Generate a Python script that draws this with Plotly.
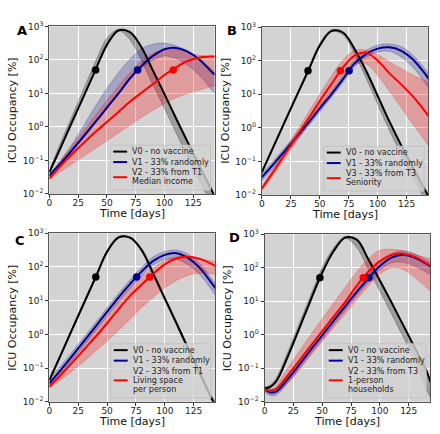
import plotly.graph_objects as go

# ---------------- data ----------------
DAYS = [0, 5, 10, 20, 30, 40, 50, 60, 70, 80, 90, 100, 110, 120, 130, 140, 144]

# Panel A
A_V0 = [0.044, 0.105, 0.25, 1.48, 8.5, 50, 282, 759, 676, 240, 47.9, 9.55, 1.82, 0.363, 0.0724, 0.0151, 0.0079]
A_V0_HI = [0.05, 0.135, 0.355, 2.24, 14.1, 89, 447, 832, 676, 240, 47.9, 9.55, 1.82, 0.363, 0.0724, 0.0151, 0.0079]
A_V0_LO = [0.0417, 0.1, 0.24, 1.41, 8.13, 47.9, 263, 740, 398, 95.5, 17.8, 3.55, 0.676, 0.135, 0.0269, 0.0056, 0.0032]
A_V1 = [0.0355, 0.055, 0.0832, 0.209, 0.537, 1.41, 3.8, 10, 28.2, 66.1, 132, 209, 229, 178, 105, 47.9, 36.3]
A_V1_HI = [0.038, 0.063, 0.105, 0.316, 1.12, 4.17, 14.1, 41.7, 105, 214, 295, 316, 263, 191, 112, 56.2, 41.7]
A_V1_LO = [0.0331, 0.05, 0.0759, 0.19, 0.49, 1.29, 3.47, 9.12, 25.1, 56.2, 100, 132, 112, 70.8, 35.5, 14.1, 10]
A_V2 = [0.029, 0.045, 0.0708, 0.158, 0.339, 0.708, 1.41, 2.82, 5.62, 10.5, 19.1, 35.5, 60.3, 93.3, 117, 126, 126]
A_V2_HI = [0.0331, 0.058, 0.1, 0.282, 0.794, 2.24, 6.31, 16.6, 41.7, 93.3, 158, 200, 200, 166, 138, 132, 132]
A_V2_LO = [0.0275, 0.036, 0.0468, 0.0794, 0.135, 0.229, 0.389, 0.661, 1.12, 1.91, 3.16, 5.01, 7.41, 10, 12.6, 15.8, 17]
A_DOTS = [40.2, 76.7, 107.6]

# Panel B
B_V0 = [0.0479, 0.115, 0.275, 1.58, 8.91, 50.1, 282, 759, 692, 224, 50.1, 8.91, 1.58, 0.316, 0.0708, 0.0158, 0.0089]
B_V0_HI = [0.052, 0.127, 0.31, 1.8, 10.2, 58, 331, 832, 692, 224, 50.1, 8.91, 1.58, 0.316, 0.0708, 0.0158, 0.0089]
B_V0_LO = [0.045, 0.11, 0.26, 1.5, 8.5, 47.9, 270, 740, 589, 158, 30.2, 5.01, 0.851, 0.166, 0.0355, 0.0079, 0.0045]
B_V1 = [0.0339, 0.053, 0.0832, 0.209, 0.537, 1.41, 3.8, 10, 28.2, 83.2, 158, 229, 251, 200, 112, 44.7, 28.8]
B_V1_HI = [0.0427, 0.067, 0.105, 0.263, 0.676, 1.78, 4.79, 12.6, 35.5, 105, 200, 288, 316, 263, 151, 61.7, 40.7]
B_V1_LO = [0.0269, 0.042, 0.0661, 0.166, 0.427, 1.12, 3.02, 7.94, 22.4, 66.1, 126, 182, 191, 132, 66.1, 24, 15.1]
B_V3 = [0.0155, 0.028, 0.05, 0.166, 0.562, 1.86, 6.31, 20, 63.1, 141, 174, 100, 42.7, 20, 8.91, 3.39, 2.24]
B_V3_HI = [0.0178, 0.034, 0.063, 0.224, 0.794, 2.82, 10, 35.5, 105, 200, 209, 151, 93.3, 58.9, 38, 26.3, 22.9]
B_V3_LO = [0.0135, 0.023, 0.0398, 0.126, 0.398, 1.26, 3.98, 12.6, 35.5, 75.9, 79.4, 35.5, 12.6, 4.17, 1.32, 0.447, 0.282]
B_DOTS = [39.8, 75.3, 67.8]

# Panel C
C_V0 = [0.0437, 0.105, 0.251, 1.48, 8.51, 49, 282, 759, 741, 316, 63.1, 11.7, 2.19, 0.398, 0.0759, 0.0141, 0.0079]
C_V0_HI = [0.048, 0.115, 0.28, 1.65, 9.5, 55, 316, 813, 760, 330, 66, 12.3, 2.3, 0.42, 0.08, 0.015, 0.0083]
C_V0_LO = [0.04, 0.096, 0.23, 1.35, 7.8, 45, 260, 720, 690, 280, 54, 10, 1.85, 0.33, 0.062, 0.0115, 0.0064]
C_V1 = [0.0355, 0.056, 0.0891, 0.234, 0.631, 1.7, 4.68, 12.6, 31.6, 74.1, 151, 229, 257, 186, 95.5, 35.5, 22.9]
C_V1_HI = [0.0468, 0.074, 0.117, 0.309, 0.832, 2.24, 6.17, 16.6, 41.7, 97.7, 200, 288, 316, 240, 126, 47.9, 31.6]
C_V1_LO = [0.0269, 0.043, 0.0676, 0.178, 0.479, 1.29, 3.55, 9.55, 24, 56.2, 115, 166, 170, 117, 60.3, 22.4, 14.1]
C_V2 = [0.0282, 0.042, 0.063, 0.148, 0.355, 0.851, 2.14, 5.62, 14.1, 30.2, 63.1, 120, 178, 200, 174, 126, 105]
C_V2_HI = [0.0316, 0.049, 0.0759, 0.19, 0.501, 1.32, 3.55, 9.55, 24, 52.5, 95.5, 151, 200, 209, 186, 151, 141]
C_V2_LO = [0.0251, 0.034, 0.0447, 0.0832, 0.158, 0.316, 0.631, 1.32, 2.82, 6.31, 12.6, 24, 39.8, 56.2, 66.1, 63.1, 60.3]
C_DOTS = [40.2, 75.6, 87.0]

# Panel D
D_V0 = [0.0251, 0.028, 0.0398, 0.214, 1.51, 10.7, 70.8, 316, 794, 692, 178, 41.7, 9.33, 2.0, 0.427, 0.0891, 0.038]
D_V0_HI = [0.027, 0.032, 0.05, 0.3, 2.1, 15, 100, 400, 871, 692, 178, 41.7, 9.33, 2.0, 0.427, 0.0891, 0.038]
D_V0_LO = [0.024, 0.026, 0.0398, 0.214, 1.51, 10.7, 70.8, 316, 760, 398, 89.1, 20, 4.27, 0.891, 0.191, 0.0251, 0.0126]
D_V1 = [0.0234, 0.019, 0.02, 0.0468, 0.126, 0.355, 0.955, 2.63, 7.08, 19.1, 47.9, 112, 200, 245, 200, 132, 107]
D_V1_HI = [0.0282, 0.024, 0.025, 0.0617, 0.166, 0.468, 1.26, 3.47, 9.33, 25.1, 63.1, 148, 263, 324, 263, 174, 141]
D_V1_LO = [0.0191, 0.0155, 0.0158, 0.0355, 0.0955, 0.269, 0.724, 2.0, 5.37, 14.5, 36.3, 85.1, 141, 145, 112, 74.1, 60.3]
D_V2 = [0.024, 0.021, 0.024, 0.0603, 0.166, 0.468, 1.29, 3.55, 9.55, 29.5, 75.9, 158, 240, 263, 214, 138, 115]
D_V2_HI = [0.0263, 0.024, 0.0302, 0.1, 0.316, 1.0, 3.02, 8.91, 26.3, 75.9, 186, 331, 355, 316, 251, 200, 186]
D_V2_LO = [0.0219, 0.0174, 0.0182, 0.0355, 0.0891, 0.24, 0.631, 1.66, 4.17, 11.2, 28.2, 63.1, 100, 89.1, 52.5, 26.3, 20]
D_DOTS = [48.0, 90.5, 85.6]

DOT_LEVEL = 50

A_LABELS = ["V0 - no vaccine", "V1 - 33% randomly", "V2 - 33% from T1<br>Median income"]
B_LABELS = ["V0 - no vaccine", "V1 - 33% randomly", "V3 - 33% from T3<br>Seniority"]
C_LABELS = ["V0 - no vaccine", "V1 - 33% randomly", "V2 - 33% from T1<br>Living space<br>per person"]
D_LABELS = ["V0 - no vaccine", "V1 - 33% randomly", "V2 - 33% from T3<br>1-person<br>households"]

X_TICKS = [0, 25, 50, 75, 100, 125]
Y_TICKS = [0.01, 0.1, 1, 10, 100, 1000]
Y_TICK_TEXT = ["10<sup>\u22122</sup>", "10<sup>\u22121</sup>", "10<sup>0</sup>",
               "10<sup>1</sup>", "10<sup>2</sup>", "10<sup>3</sup>"]
X_TITLE = "Time [days]"
Y_TITLE = "ICU Occupancy [%]"

# ---------------- styling / layout ----------------
W, H = 440, 434
FONT = "DejaVu Sans"
COLORS = ["#000000", "#00008b", "#ff0000"]
FILLS = ["rgba(0,0,0,0.26)", "rgba(0,0,139,0.22)", "rgba(255,0,0,0.26)"]
EDGES = ["rgba(0,0,0,0.30)", "rgba(0,0,139,0.30)", "rgba(255,0,0,0.28)"]


def fx(x):
    return x / W


def fy(y):
    return 1 - y / H


panels = [
    dict(letter="A", rect=(46.7, 20.0, 213.0, 192.3), letter_pos=(19.5, 24),
         series=[(A_V0, A_V0_LO, A_V0_HI), (A_V1, A_V1_LO, A_V1_HI), (A_V2, A_V2_LO, A_V2_HI)],
         dots=A_DOTS, labels=A_LABELS),
    dict(letter="B", rect=(260.7, 20.7, 428.0, 193.3), letter_pos=(231, 24),
         series=[(B_V0, B_V0_LO, B_V0_HI), (B_V1, B_V1_LO, B_V1_HI), (B_V3, B_V3_LO, B_V3_HI)],
         dots=B_DOTS, labels=B_LABELS),
    dict(letter="C", rect=(46.7, 232.7, 213.5, 406.0), letter_pos=(17.5, 240),
         series=[(C_V0, C_V0_LO, C_V0_HI), (C_V1, C_V1_LO, C_V1_HI), (C_V2, C_V2_LO, C_V2_HI)],
         dots=C_DOTS, labels=C_LABELS),
    dict(letter="D", rect=(263.3, 233.7, 430.0, 406.0), letter_pos=(233.5, 237),
         series=[(D_V0, D_V0_LO, D_V0_HI), (D_V1, D_V1_LO, D_V1_HI), (D_V2, D_V2_LO, D_V2_HI)],
         dots=D_DOTS, labels=D_LABELS),
]

fig = go.Figure()
shapes = []
annotations = []
layout_axes = {}

for i, p in enumerate(panels, start=1):
    xa = "x" if i == 1 else f"x{i}"
    ya = "y" if i == 1 else f"y{i}"
    left, top, right, bottom = p["rect"]

    # bands
    for k, (line, lo, hi) in enumerate(p["series"]):
        fig.add_trace(go.Scatter(x=DAYS, y=lo, mode="lines", xaxis=xa, yaxis=ya,
                                 line=dict(color=EDGES[k], width=0.8, shape="spline"),
                                 showlegend=False, hoverinfo="skip"))
        fig.add_trace(go.Scatter(x=DAYS, y=hi, mode="lines", xaxis=xa, yaxis=ya,
                                 fill="tonexty", fillcolor=FILLS[k],
                                 line=dict(color=EDGES[k], width=0.8, shape="spline"),
                                 showlegend=False, hoverinfo="skip"))
    # lines
    for k, (line, lo, hi) in enumerate(p["series"]):
        fig.add_trace(go.Scatter(x=DAYS, y=line, mode="lines", xaxis=xa, yaxis=ya,
                                 line=dict(color=COLORS[k], width=2, shape="spline"),
                                 showlegend=False))
    # threshold dots
    fig.add_trace(go.Scatter(x=p["dots"], y=[DOT_LEVEL] * len(p["dots"]), mode="markers",
                             xaxis=xa, yaxis=ya,
                             marker=dict(color=COLORS, size=7.5, line=dict(width=0)),
                             showlegend=False))

    common = dict(showgrid=True, gridcolor="white", gridwidth=1, zeroline=False,
                  showline=True, mirror=True, linecolor="#555555", linewidth=1,
                  ticks="outside", ticklen=3, tickwidth=1, tickcolor="#333333",
                  tickfont=dict(family=FONT, size=9, color="#222222"))
    layout_axes["xaxis" if i == 1 else f"xaxis{i}"] = dict(
        domain=[fx(left), fx(right)], range=[0, 143.5], anchor=ya,
        tickvals=X_TICKS, ticktext=[str(t) for t in X_TICKS], ticklabelstandoff=-3, **common)
    layout_axes["yaxis" if i == 1 else f"yaxis{i}"] = dict(
        domain=[fy(bottom), fy(top)], type="log", range=[-2, 3], anchor=xa,
        tickvals=Y_TICKS, ticktext=Y_TICK_TEXT, **common)

    # axis titles
    annotations.append(dict(text=X_TITLE, x=fx((left + right) / 2), y=fy(bottom + 20.5),
                            xref="paper", yref="paper", showarrow=False,
                            xanchor="center", yanchor="middle",
                            font=dict(family=FONT, size=11, color="#111111")))
    annotations.append(dict(text=Y_TITLE, x=fx(left - 37.5), y=fy((top + bottom) / 2),
                            xref="paper", yref="paper", showarrow=False, textangle=-90,
                            xanchor="center", yanchor="middle",
                            font=dict(family=FONT, size=11, color="#111111")))
    # panel letter
    lx, ly = p["letter_pos"]
    annotations.append(dict(text="<b>" + p["letter"] + "</b>", x=fx(lx), y=fy(ly),
                            xref="paper", yref="paper", showarrow=False,
                            xanchor="center", yanchor="middle",
                            font=dict(family="DejaVu Sans", size=13, color="#000000")))

    # legend (drawn manually, matplotlib style)
    rows = [lab.split("<br>") for lab in p["labels"]]
    n_lines = sum(len(r) for r in rows)
    box_bottom = bottom - 4
    box_right = right - 4
    box_h = 8.5 + 10.8 * (len(rows) - 1) + 9.5 * (n_lines - len(rows)) + 6.5
    box_top = box_bottom - box_h
    box_left = box_right - 101
    shapes.append(dict(type="rect", xref="paper", yref="paper",
                       x0=fx(box_left), x1=fx(box_right), y0=fy(box_bottom), y1=fy(box_top),
                       fillcolor="rgba(211,211,211,0.8)", line=dict(color="#c4c4c4", width=1),
                       layer="above"))
    yy = box_top + 6.5
    for k, r in enumerate(rows):
        ys = []
        for j, txt in enumerate(r):
            ycur = yy + j * 9.5
            ys.append(ycur)
            annotations.append(dict(text=txt, x=fx(box_left + 20), y=fy(ycur),
                                    xref="paper", yref="paper", showarrow=False,
                                    xanchor="left", yanchor="middle",
                                    font=dict(family=FONT, size=8, color="#222222")))
        ysym = sum(ys) / len(ys)
        shapes.append(dict(type="line", xref="paper", yref="paper",
                           x0=fx(box_left + 3), x1=fx(box_left + 17), y0=fy(ysym), y1=fy(ysym),
                           line=dict(color=COLORS[k], width=2), layer="above"))
        yy = ys[-1] + 10.8

fig.update_layout(
    width=W, height=H, autosize=False,
    margin=dict(l=0, r=0, t=0, b=0),
    paper_bgcolor="white", plot_bgcolor="#d3d3d3",
    showlegend=False,
    shapes=shapes, annotations=annotations,
    font=dict(family=FONT),
    **layout_axes,
)

fig.write_html("out.html",
               config={"displayModeBar": False, "staticPlot": True},
               post_script="document.body.style.margin='0';document.body.style.overflow='hidden';")
